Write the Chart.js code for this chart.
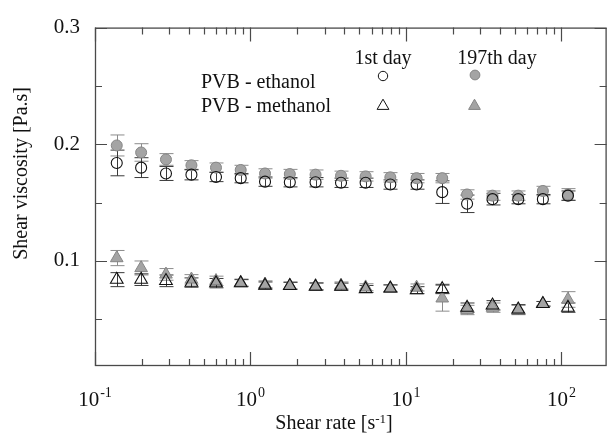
<!DOCTYPE html>
<html>
<head>
<meta charset="utf-8">
<script src="https://cdn.jsdelivr.net/npm/chart.js@4.4.1/dist/chart.umd.min.js"></script>
<style>
  html, body { margin: 0; padding: 0; background: #fff; }
  #wrap { width: 615px; height: 437px; }
</style>
</head>
<body>
<div id="wrap"><canvas id="chart" width="615" height="437"></canvas></div>
<script>
// shear rate [1/s] of each measured point
const shearRate = [0.138, 0.198, 0.286, 0.417, 0.60, 0.865, 1.24, 1.79, 2.62, 3.82,
                   5.5, 7.93, 11.7, 17.1, 24.7, 36.0, 52.7, 75.9, 110];

// viscosity [Pa.s]
const ethanolDay1 = [0.184, 0.180, 0.175, 0.174, 0.172, 0.171, 0.168, 0.1675, 0.1675, 0.167,
                     0.167, 0.1655, 0.1655, 0.159, 0.149, 0.153, 0.153, 0.153, 0.156];
const ethanolDay197 = [0.199, 0.193, 0.187, 0.182, 0.180, 0.178, 0.175, 0.1745, 0.174, 0.173,
                       0.1725, 0.1717, 0.171, 0.171, 0.157, 0.156, 0.156, 0.160, 0.157];
const methanolDay1 = [0.084, 0.084, 0.083, 0.0815, 0.081, 0.081, 0.079, 0.0787, 0.078, 0.078,
                      0.076, 0.0765, 0.075, 0.076, 0.060, 0.062, 0.0586, 0.0633, 0.060];
const methanolDay197 = [0.1025, 0.094, 0.0885, 0.0843, 0.083, 0.0815, 0.080, 0.079, 0.0785, 0.079,
                        0.0775, 0.0765, 0.0773, 0.068, 0.058, 0.060, 0.058, 0.0633, 0.067];

// error bar half heights
const ethanolDay1Err = [0.011, 0.0085, 0.006, 0.0045, 0.004, 0.004, 0.004, 0.004, 0.004, 0.004,
                        0.004, 0.004, 0.004, 0.0097, 0.0075, 0.005, 0.004, 0.004, 0.004];
const ethanolDay197Err = [0.009, 0.0075, 0.005, 0.004, 0.004, 0.004, 0.004, 0.004, 0.004, 0.004,
                          0.004, 0.004, 0.004, 0.004, 0.004, 0.004, 0.004, 0.004, 0.005];
const methanolDay1Err = [0.006, 0.005, 0.005, 0.004, 0.004, 0.003, 0.003, 0.003, 0.003, 0.003,
                         0.003, 0.003, 0.003, 0.004, 0.004, 0.004, 0.004, 0.002, 0.004];
const methanolDay197Err = [0.0065, 0.006, 0.005, 0.004, 0.004, 0.003, 0.003, 0.003, 0.003, 0.003,
                           0.003, 0.003, 0.003, 0.011, 0.004, 0.004, 0.004, 0.002, 0.0067];

// axis ticks
const xDecades = [0.1, 1, 10, 100];
const xDecadeExp = ['-1', '0', '1', '2'];
const yLabelTicks = [0.1, 0.2, 0.3];
const yMinorTicks = [0.05, 0.15, 0.25];

const legendRows = ['PVB - ethanol', 'PVB - methanol'];
const legendCols = ['1st day', '197th day'];

const serif = '"Liberation Serif", "Times New Roman", serif';
const grayFill = '#a4a4a4';
const grayEdge = '#858585';
const axisColor = '#4a4a4a';

function pts(ys) {
    return ys.map((v, i) => ({ x: shearRate[i], y: v }));
}

function triangle(ctx, x, y, r) {
    ctx.beginPath();
    ctx.moveTo(x, y - r);
    ctx.lineTo(x + r * 0.866, y + r / 2);
    ctx.lineTo(x - r * 0.866, y + r / 2);
    ctx.closePath();
}

const errorBars = {
    id: 'errorBars',
    beforeDatasetsDraw(chart) {
        const ctx = chart.ctx;
        const xs = chart.scales.x, ys = chart.scales.y;
        const sets = [
            [ethanolDay197, ethanolDay197Err, '#8c8c8c'],
            [methanolDay197, methanolDay197Err, '#8c8c8c'],
            [ethanolDay1, ethanolDay1Err, '#3a3a3a'],
            [methanolDay1, methanolDay1Err, '#3a3a3a']
        ];
        ctx.save();
        ctx.lineWidth = 1;
        sets.forEach(([vals, errs, color]) => {
            ctx.strokeStyle = color;
            vals.forEach((v, i) => {
                const px = Math.round(xs.getPixelForValue(shearRate[i])) + 0.5;
                const top = ys.getPixelForValue(v + errs[i]);
                const bot = ys.getPixelForValue(v - errs[i]);
                ctx.beginPath();
                ctx.moveTo(px, top); ctx.lineTo(px, bot);
                ctx.moveTo(px - 7, top); ctx.lineTo(px + 7, top);
                ctx.moveTo(px - 7, bot); ctx.lineTo(px + 7, bot);
                ctx.stroke();
            });
        });
        ctx.restore();
    }
};

const frameAndText = {
    id: 'frameAndText',
    afterDraw(chart) {
        const ctx = chart.ctx;
        const a = chart.chartArea;
        const xs = chart.scales.x, ys = chart.scales.y;
        ctx.save();

        // frame
        ctx.strokeStyle = axisColor;
        ctx.lineWidth = 1.3;
        ctx.strokeRect(a.left + 0.5, a.top + 0.5, a.right - a.left - 1, a.bottom - a.top - 1);

        // inward ticks, x (log)
        ctx.lineWidth = 1.2;
        ctx.beginPath();
        xDecades.forEach(d => {
            for (let m = 1; m <= 9; m++) {
                const v = m * d;
                if (v < xs.min || v > xs.max) continue;
                const px = Math.round(xs.getPixelForValue(v)) + 0.5;
                const len = m === 1 ? 14 : 7;
                ctx.moveTo(px, a.bottom); ctx.lineTo(px, a.bottom - len);
                ctx.moveTo(px, a.top); ctx.lineTo(px, a.top + len);
            }
        });
        // inward ticks, y
        yLabelTicks.concat(yMinorTicks).forEach(v => {
            const py = Math.round(ys.getPixelForValue(v)) + 0.5;
            const len = yLabelTicks.includes(v) ? 12 : 7;
            ctx.moveTo(a.left, py); ctx.lineTo(a.left + len, py);
            ctx.moveTo(a.right, py); ctx.lineTo(a.right - len, py);
        });
        ctx.stroke();

        // x tick labels with superscripts
        ctx.fillStyle = '#111';
        ctx.textBaseline = 'alphabetic';
        ctx.textAlign = 'left';
        xDecades.forEach((d, i) => {
            const px = xs.getPixelForValue(d);
            ctx.font = '21px ' + serif;
            const wb = ctx.measureText('10').width;
            ctx.font = '14px ' + serif;
            const we = ctx.measureText(xDecadeExp[i]).width;
            const x0 = px - (wb + we + 1) / 2;
            ctx.font = '21px ' + serif;
            ctx.fillText('10', x0, 406);
            ctx.font = '14px ' + serif;
            ctx.fillText(xDecadeExp[i], x0 + wb + 1, 397);
        });

        // x axis title
        ctx.font = '20px ' + serif;
        const t1 = 'Shear rate [s', t2 = '-1', t3 = ']';
        const w1 = ctx.measureText(t1).width, w3 = ctx.measureText(t3).width;
        ctx.font = '13px ' + serif;
        const w2 = ctx.measureText(t2).width;
        let tx = 334 - (w1 + w2 + w3) / 2;
        ctx.font = '20px ' + serif;
        ctx.fillText(t1, tx, 429);
        ctx.font = '13px ' + serif;
        ctx.fillText(t2, tx + w1, 423);
        ctx.font = '20px ' + serif;
        ctx.fillText(t3, tx + w1 + w2, 429);

        // y axis title
        ctx.save();
        ctx.translate(22, 87);
        ctx.rotate(-Math.PI / 2);
        ctx.textAlign = 'right';
        ctx.textBaseline = 'middle';
        ctx.font = '20px ' + serif;
        ctx.fillText('Shear viscosity [Pa.s]', 0, 0);
        ctx.restore();

        // legend
        ctx.font = '20px ' + serif;
        ctx.textAlign = 'center';
        ctx.fillText(legendCols[0], 383, 64);
        ctx.fillText(legendCols[1], 497, 64);
        ctx.textAlign = 'left';
        ctx.fillText(legendRows[0], 201, 88);
        ctx.fillText(legendRows[1], 201, 112);

        ctx.lineWidth = 1;
        ctx.strokeStyle = '#111';
        ctx.beginPath(); ctx.arc(383, 76, 4.7, 0, Math.PI * 2); ctx.stroke();
        ctx.fillStyle = grayFill; ctx.strokeStyle = grayEdge;
        ctx.beginPath(); ctx.arc(475, 75, 4.9, 0, Math.PI * 2); ctx.fill(); ctx.stroke();
        ctx.strokeStyle = '#111';
        triangle(ctx, 383, 106, 6.8); ctx.stroke();
        ctx.strokeStyle = grayEdge;
        triangle(ctx, 474.5, 106, 6.8); ctx.fill(); ctx.stroke();

        ctx.restore();
    }
};

new Chart(document.getElementById('chart'), {
    type: 'scatter',
    data: {
        datasets: [
            {
                label: 'PVB - ethanol, 1st day',
                data: pts(ethanolDay1),
                pointStyle: 'circle', pointRadius: 5.5,
                backgroundColor: 'rgba(0,0,0,0)', borderColor: '#111', borderWidth: 1.1
            },
            {
                label: 'PVB - methanol, 1st day',
                data: pts(methanolDay1),
                pointStyle: 'triangle', pointRadius: 7.3,
                backgroundColor: 'rgba(0,0,0,0)', borderColor: '#111', borderWidth: 1.1
            },
            {
                label: 'PVB - ethanol, 197th day',
                data: pts(ethanolDay197),
                pointStyle: 'circle', pointRadius: 5.5,
                backgroundColor: grayFill, borderColor: grayEdge, borderWidth: 1
            },
            {
                label: 'PVB - methanol, 197th day',
                data: pts(methanolDay197),
                pointStyle: 'triangle', pointRadius: 7.3,
                backgroundColor: grayFill, borderColor: grayEdge, borderWidth: 1
            }
        ]
    },
    options: {
        responsive: false,
        animation: false,
        devicePixelRatio: 1,
        layout: { padding: { top: 20, right: 1, left: 0, bottom: 0 } },
        plugins: { legend: { display: false }, tooltip: { enabled: false } },
        scales: {
            x: {
                type: 'logarithmic',
                min: 0.1,
                max: 195,
                grid: { display: false },
                border: { display: false },
                ticks: { display: false },
                afterFit: s => { s.height = 71; }
            },
            y: {
                type: 'linear',
                min: 0.01,
                max: 0.3,
                grid: { display: false, drawTicks: false },
                border: { display: false },
                afterBuildTicks: s => { s.ticks = yLabelTicks.map(v => ({ value: v })); },
                ticks: {
                    padding: 15,
                    color: '#111',
                    font: { family: serif, size: 21 },
                    callback: v => v.toFixed(1)
                },
                afterFit: s => { s.width = 95; }
            }
        }
    },
    plugins: [errorBars, frameAndText]
});
</script>
</body>
</html>
